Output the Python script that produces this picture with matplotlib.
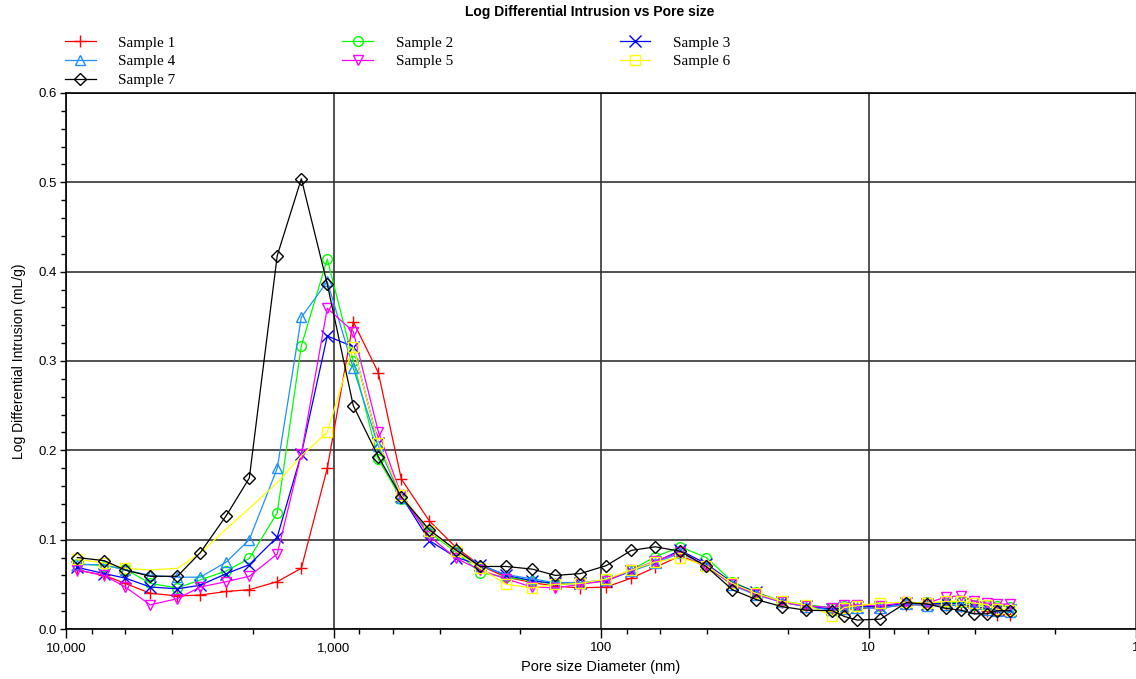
import numpy as np
import matplotlib
matplotlib.use("Agg")
import matplotlib.pyplot as plt
from matplotlib.ticker import FixedLocator, FuncFormatter, MultipleLocator

plt.rcParams['font.family'] = ['Liberation Sans', 'DejaVu Sans']

# pore diameters (nm), shared by every sample
diam = [9074, 7192, 6001, 4841, 3836, 3147, 2516, 2064, 1623, 1319,
        1055, 843.5, 680, 557.9, 438.4, 347.4, 282.6, 226.0, 180.6, 148.2,
        119.5, 95.5, 77.0, 62.7, 50.5, 40.4, 32.3, 26.3, 21.0, 17.1,
        13.66, 12.31, 11.01, 9.03, 7.22, 6.03, 5.12, 4.50, 4.02, 3.60,
        3.30, 2.97]

s1 = [0.066, 0.060, 0.051, 0.040, 0.037, 0.038, 0.042, 0.044, 0.053, 0.068,
      0.180, 0.344, 0.287, 0.168, 0.121, 0.091, 0.071, 0.058, 0.052, 0.048,
      0.046, 0.047, 0.057, 0.069, 0.082, 0.070, 0.050, 0.039, 0.030, 0.025,
      0.022, 0.022, 0.023, 0.024, 0.027, 0.027, 0.027, 0.026, 0.024, 0.020,
      0.016, 0.016]
s2 = [0.073, 0.071, 0.067, 0.051, 0.046, 0.055, 0.065, 0.079, 0.130, 0.317,
      0.414, 0.300, 0.190, 0.146, 0.108, 0.086, 0.063, 0.058, 0.054, 0.050,
      0.051, 0.055, 0.066, 0.081, 0.092, 0.080, 0.053, 0.041, 0.031, 0.027,
      0.024, 0.026, 0.027, 0.026, 0.029, 0.030, 0.029, 0.030, 0.027, 0.027,
      0.026, 0.025]
s3 = [0.069, 0.062, 0.057, 0.047, 0.045, 0.049, 0.062, 0.072, 0.103, 0.196,
      0.328, 0.316, 0.208, 0.149, 0.099, 0.080, 0.072, 0.060, 0.054, 0.051,
      0.051, 0.054, 0.065, 0.075, 0.088, 0.073, 0.052, 0.041, 0.030, 0.026,
      0.022, 0.024, 0.025, 0.025, 0.029, 0.028, 0.029, 0.028, 0.025, 0.023,
      0.021, 0.021]
s4 = [0.072, 0.072, 0.066, 0.060, 0.058, 0.058, 0.075, 0.100, 0.180, 0.349,
      0.389, 0.292, 0.205, 0.147, 0.110, 0.088, 0.071, 0.061, 0.056, 0.052,
      0.052, 0.055, 0.065, 0.074, 0.085, 0.071, 0.049, 0.038, 0.030, 0.025,
      0.021, 0.022, 0.024, 0.023, 0.028, 0.026, 0.027, 0.026, 0.023, 0.021,
      0.020, 0.019]
s5 = [0.066, 0.060, 0.047, 0.027, 0.034, 0.047, 0.053, 0.059, 0.084, 0.196,
      0.359, 0.333, 0.221, 0.150, 0.104, 0.079, 0.066, 0.056, 0.047, 0.046,
      0.050, 0.054, 0.066, 0.076, 0.086, 0.071, 0.050, 0.039, 0.030, 0.026,
      0.024, 0.027, 0.027, 0.026, 0.030, 0.029, 0.036, 0.037, 0.031, 0.029,
      0.028, 0.028]
s6 = [0.078, 0.074, 0.068, 0.066, 0.068, 0.085, 0.112, 0.135, 0.164, 0.194,
      0.220, 0.316, 0.208, 0.150, 0.110, 0.087, 0.068, 0.050, 0.046, 0.050,
      0.051, 0.056, 0.066, 0.075, 0.080, 0.071, 0.051, 0.040, 0.031, 0.027,
      0.015, 0.024, 0.026, 0.029, 0.030, 0.029, 0.031, 0.031, 0.029, 0.027,
      0.022, 0.021]
s7 = [0.080, 0.0765, 0.066, 0.059, 0.059, 0.0855, 0.127, 0.169, 0.418, 0.504,
      0.386, 0.250, 0.193, 0.148, 0.111, 0.088, 0.070, 0.070, 0.067, 0.060,
      0.062, 0.071, 0.088, 0.092, 0.087, 0.070, 0.044, 0.033, 0.025, 0.021,
      0.0205, 0.014, 0.010, 0.011, 0.0295, 0.028, 0.023, 0.021, 0.017, 0.017,
      0.0205, 0.0205]

labels = ['Sample 1', 'Sample 2', 'Sample 3', 'Sample 4', 'Sample 5', 'Sample 6', 'Sample 7']
series = [s1, s2, s3, s4, s5, s6, s7]
colors = ['#FF0000', '#00FF00', '#0000FF', '#1E90FF', '#FF00FF', '#FFFF00', '#000000']
markers = ['+', 'o', 'x', '^', 'v', 's', 'D']
msizes = [8, 7, 8, 7, 7, 7, 6]

fig = plt.figure(figsize=(11.36, 6.79), dpi=100)
ax = fig.add_axes([66 / 1136, 50 / 679, 1070 / 1136, 536 / 679])

n = len(diam)
lines = {}
for lab, y, c, m, ms in zip(labels, series, colors, markers, msizes):
    every = list(range(n))
    if lab == 'Sample 6':
        every = [i for i in every if not (3 <= i <= 9)]
    ln, = ax.plot(diam, y, color=c, lw=0.9, marker=m, ms=ms, mfc='none',
                  mec=c, mew=1.0, markevery=every, label=lab)
    lines[lab] = ln

ax.set_xscale('log')
ax.set_xlim(10000, 1)
ax.set_ylim(0, 0.6)

ax.xaxis.set_major_locator(FixedLocator([10000, 1000, 100, 10, 1]))
ax.xaxis.set_major_formatter(FuncFormatter(lambda v, p: '{:,.0f}'.format(v)))
minors = [k * 10.0 ** e for e in range(0, 4) for k in (2, 4, 6, 8)]
ax.xaxis.set_minor_locator(FixedLocator(minors))
ax.xaxis.set_minor_formatter(FuncFormatter(lambda v, p: ''))
ax.yaxis.set_major_locator(MultipleLocator(0.1))
ax.yaxis.set_minor_locator(MultipleLocator(0.02))
ax.yaxis.set_major_formatter(FuncFormatter(lambda v, p: '{:.1f}'.format(v)))

ax.tick_params(axis='x', which='major', direction='out', length=6.5, width=1, labelsize=9.5, pad=3)
ax.tick_params(axis='x', which='minor', direction='out', length=3.5, width=1)
ax.tick_params(axis='y', which='major', direction='out', length=4.5, width=1, labelsize=9.5, pad=2)
ax.tick_params(axis='y', which='minor', direction='out', length=3.5, width=1)

ax.grid(True, which='major', color='#333333', lw=1.2)
ax.set_axisbelow(True)
ax.spines['right'].set_visible(False)
for sp in ('left', 'bottom', 'top'):
    ax.spines[sp].set_linewidth(1.2)

ax.set_xlabel('Pore size Diameter (nm)', fontsize=10.5, labelpad=4)
ax.set_ylabel('Log Differential Intrusion (mL/g)', fontsize=10, labelpad=9)

fig.text(590 / 1136, 1 - 12 / 679, 'Log Differential Intrusion vs Pore size',
         ha='center', va='center', fontsize=10, fontweight='bold')

order = ['Sample 1', 'Sample 4', 'Sample 7', 'Sample 2', 'Sample 5', 'Sample 3', 'Sample 6']
fig.legend([lines[k] for k in order], order, ncol=3, loc='upper left',
           bbox_to_anchor=(65 / 1136, 1 - 36 / 679), frameon=False,
           prop={'family': 'Liberation Serif', 'size': 11},
           handlelength=2.0, handletextpad=1.5, columnspacing=10.9,
           labelspacing=0.33, borderpad=0, borderaxespad=0)

fig.savefig('out.png', dpi=100)
